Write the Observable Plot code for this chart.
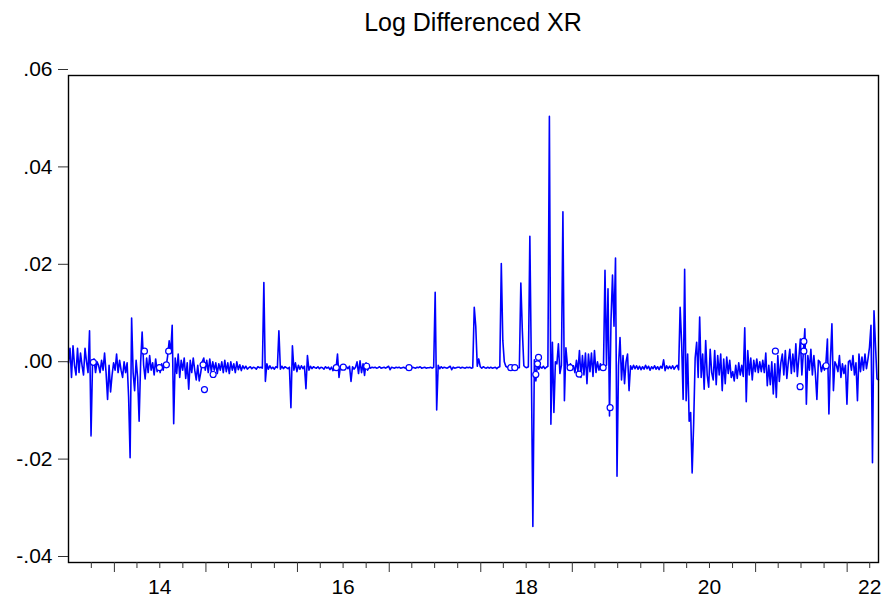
<!DOCTYPE html>
<html><head><meta charset="utf-8">
<script src="https://cdn.jsdelivr.net/npm/d3@7"></script>
<script src="https://cdn.jsdelivr.net/npm/@observablehq/plot@0.6"></script>
<style>body{margin:0;background:#fff;} svg{display:block}</style>
</head><body><div id="chart"></div>
<script>
const title = "Log Differenced XR";
const startDate = "2013-07-02";
const endDate = "2022-05-06";
// daily-ish log differences read across the picture, left to right
const values = [
 .001, .004, -.002, .0045, .0005, -.0015, .004, -.001, .003, .0005, -.0015, .004, .0012, -.001, .0076, -.014, .001, .0018, -.001, .0012,
 .0005, -.001, .0015, -.0005, .003, -.001, -.0065, .0005, -.005, -.0015, .001, -.0005, .0028, -.001, .0015, -.0005, -.002, .0012, -.001, .001,
 -.006, -.0185, .0102, -.001, -.0047, .0015, -.002, -.011, .001, .0073, .0005, -.0023, .002, -.001, .0025, -.0005, .001, -.0015, .0018, -.0008,
 .0005, -.001, .0008, -.0005, .001, .0002, .0025, .0055, .003, .0087, -.0115, .002, -.0012, .0028, -.002, .0015, -.0005, .002, -.0022, .001,
 -.0044, .0015, -.001, .002, -.0005, -.0025, .0005, -.0027, -.001, .0012, .002, -.0005, .0015, -.001, .0018, -.0008, .0012, -.0005, .001, -.0012,
 .0008, -.0005, .0012, -.001, .0015, -.0008, .001, -.0012, .0012, -.0005, .0008, -.001, .0012, -.0004, .0006, -.0006, .0004, -.0002, .0003, -.0003,
 0, .0002, -.0002, .0001, 0, -.0003, .0002, 0, .0001, -.0001, .0175, -.0028, .0008, -.0003, .0004, -.0002, .0001, -.0003, .0002, 0,
 .0076, -.0003, .0003, -.0002, .0002, 0, -.0002, .0001, -.0082, .0045, -.0005, .001, -.0008, .0005, -.0003, .0004, -.0002, .0003, -.0043, .0025,
 -.0005, .0003, -.0002, .0002, 0, -.0001, .0002, -.0002, .0001, 0, -.0003, .0002, -.0001, .0001, -.0004, .0001, -.0006, .0002, -.0003, .0028,
 -.002, .0003, -.0002, .0004, -.0001, .0002, -.0002, .0003, -.0028, .0002, -.0003, .0001, .0012, -.0012, .0014, -.001, .0008, -.0016, .001, -.0005,
 .0002, -.0001, .0001, 0, .0001, -.0001, 0, .0002, -.0001, 0, .0001, -.0001, .0001, .0003, -.0004, .0001, 0, -.0001, .0001, 0,
 .0001, -.0001, 0, .0001, -.0001, 0, .0001, 0, -.0002, .0001, 0, -.0001, .0001, 0, .0002, -.0001, 0, .0001, -.0001, 0,
 0, .0001, -.0001, .0001, .0155, -.0087, .0005, -.0002, .0002, -.0001, .0001, 0, -.0001, .0001, .0003, -.0004, .0001, -.0001, 0, .0001,
 .0001, -.0001, .0001, 0, -.0001, .0001, 0, .0001, -.0001, 0, .0124, .0085, .0003, .0018, .0002, -.0001, .0002, 0, -.0001, .0001,
 -.0001, .0001, -.0001, 0, .0001, -.0002, .0001, .0002, .0214, .0056, .0012, .0003, .0001, -.0001, .0001, 0, 0, 0, .0001, 0,
 0, .0174, .0076, .0004, .0001, 0, .0002, .027, .0001, -.0326, .0016, -.0027, .0008, -.0003, .0002, -.0001, .0003, -.0002, .0001, .0003,
 .0516, -.0116, .0052, -.0092, .0012, .0008, .0049, -.0012, .0005, .032, -.0068, .0041, .0005, -.0003, .0008, -.0002, .0004, -.001, .0015, -.0008,
 .0035, -.002, .0025, -.0015, .003, -.0033, .0028, -.0008, .003, -.0018, .0035, -.001, .0012, -.0005, .0008, -.0003, .0002, .02, .0005, .0162,
 -.0099, .0097, .019, .0085, .0225, -.0223, .0005, .0062, -.0025, .0025, -.0033, .0012, .0028, -.0047, .0004, -.0003, .0005, -.0002, .0004, -.0003,
 .0003, -.0004, .0002, -.0003, .0005, -.0002, .0003, -.0005, .0002, -.0002, .0004, -.0003, .0002, -.0004, .0003, -.0001, .0016, -.0006, .0004, -.0002,
 .0003, -.0002, .0004, -.0003, .0002, .0005, -.0004, .0124, .005, -.0065, .0202, -.0068, .0028, -.011, -.0092, -.0216, -.0115, .002, .0052, -.002,
 .0104, -.002, .0028, -.0044, .0056, -.0015, -.004, .0038, -.001, -.0025, .0035, -.0035, .0025, -.0015, .0028, -.0047, .0018, -.0033, .0022, -.0012,
 .0015, -.002, -.0008, -.0027, .0005, -.0022, .001, -.0015, .0005, -.0018, .0082, -.007, .0035, -.0015, .002, -.0025, .0015, -.0008, .0018, -.001,
 .0012, -.0008, .0015, -.001, .003, -.0037, .0005, -.0035, .0012, -.0054, .0008, -.0061, .0025, -.0028, .001, .0028, -.0015, .0035, -.0022, .0012,
 .0038, -.0012, .0028, -.0008, .0049, -.0018, .002, .0059, -.0015, .0032, .008, -.0075, .0025, -.0005, .0038, -.0015, .0025, -.0012, -.0065, .0015,
 .0012, -.0008, .0005, -.0005, .0008, .0059, -.0095, .0015, .009, -.0047, .0012, .0005, -.0008, .0025, -.002, .0008, -.0012, .0005, -.0075, .0012,
 .0015, -.0005, .0025, -.0015, .001, -.0068, .0028, -.0008, .0022, -.0005, .0028, -.0002, .0018, .0042, .0087, -.0195, .0117, .0045, -.0023, -.0025
];
// isolated observations drawn as circles (decimal year, value)
const markYears = [2013.770, 2014.328, 2014.568, 2014.593, 2014.492, 2014.969, 2014.984, 2015.079,
  2016.423, 2016.499, 2016.754, 2017.216, 2018.328, 2018.372, 2018.631, 2018.620, 2018.601,
  2018.976, 2019.074, 2019.337, 2019.413, 2021.216, 2021.527, 2021.527, 2021.486, 2021.770];
const markValues = [.0011, .0034, .0006, .0034, 0, .0006, -.0045, -.0014,
  0, .0001, .0003, 0, 0, 0, .0021, .0008, -.0014,
  0, -.0013, 0, -.0082, .0034, .0054, .0034, -.0039, .0004];
const yTicks = [0.06, 0.04, 0.02, 0, -0.02, -0.04];
const yTickLabels = [".06", ".04", ".02", ".00", "-.02", "-.04"];
const xLabelDates = ["2014-07-01", "2016-07-01", "2018-07-01", "2020-07-01", "2022-04-01"];
const xLabels = ["14", "16", "18", "20", "22"];

const t0 = new Date(startDate), t1 = new Date(endDate);
const n = values.length;
const series = values.map((v, i) => ({date: new Date(+t0 + (t1 - t0) * i / (n - 1)), value: v}));
function yearToDate(y) {
  const yi = Math.floor(y), a = Date.UTC(yi, 0, 1), b = Date.UTC(yi + 1, 0, 1);
  return new Date(a + (b - a) * (y - yi));
}
const isolated = markYears.map((y, i) => ({date: yearToDate(y), value: markValues[i]}));
const yearTicks = d3.utcYear.range(t0, t1);
const quarterTicks = d3.utcMonth.every(3).range(t0, t1).filter(d => d.getUTCMonth() !== 0);
const yLab = new Map(yTicks.map((d, i) => [d, yTickLabels[i]]));
const xLab = new Map(xLabelDates.map((d, i) => [+new Date(d), xLabels[i]]));

const chart = Plot.plot({
  width: 883, height: 601,
  marginLeft: 68, marginRight: 5, marginTop: 75, marginBottom: 39,
  style: {fontFamily: "'Liberation Sans', Arial, sans-serif", fontSize: "21px", color: "#000", background: "#fff"},
  x: {type: "utc", domain: [t0, t1], label: null},
  y: {domain: [-0.04, 0.06], label: null},
  marks: [
    Plot.line(series, {x: "date", y: "value", stroke: "#0000ff", strokeWidth: 1.6}),
    Plot.dot(isolated, {x: "date", y: "value", r: 3, stroke: "#0000ff", strokeWidth: 1.2, fill: "white"}),
    Plot.frame({stroke: "#000", strokeWidth: 1.4}),
    Plot.axisY({ticks: yTicks, tickFormat: d => yLab.get(d), tickSize: 10, tickPadding: 6, dy: -6, fontSize: 21, stroke: "#333", label: null}),
    Plot.axisX({ticks: yearTicks, tickFormat: () => "", tickSize: 10, stroke: "#333", label: null}),
    Plot.axisX({ticks: quarterTicks, tickFormat: () => "", tickSize: 6, stroke: "#333", label: null}),
    Plot.axisX({ticks: xLabelDates.map(d => new Date(d)), tickFormat: d => xLab.get(+d), tickSize: 0, tickPadding: 17, fontSize: 21, label: null})
  ]
});
d3.select(chart).append("text")
  .attr("x", 473).attr("y", 31).attr("text-anchor", "middle")
  .attr("font-size", 25).attr("fill", "#000").text(title);
document.getElementById("chart").appendChild(chart);
</script>
</body></html>
